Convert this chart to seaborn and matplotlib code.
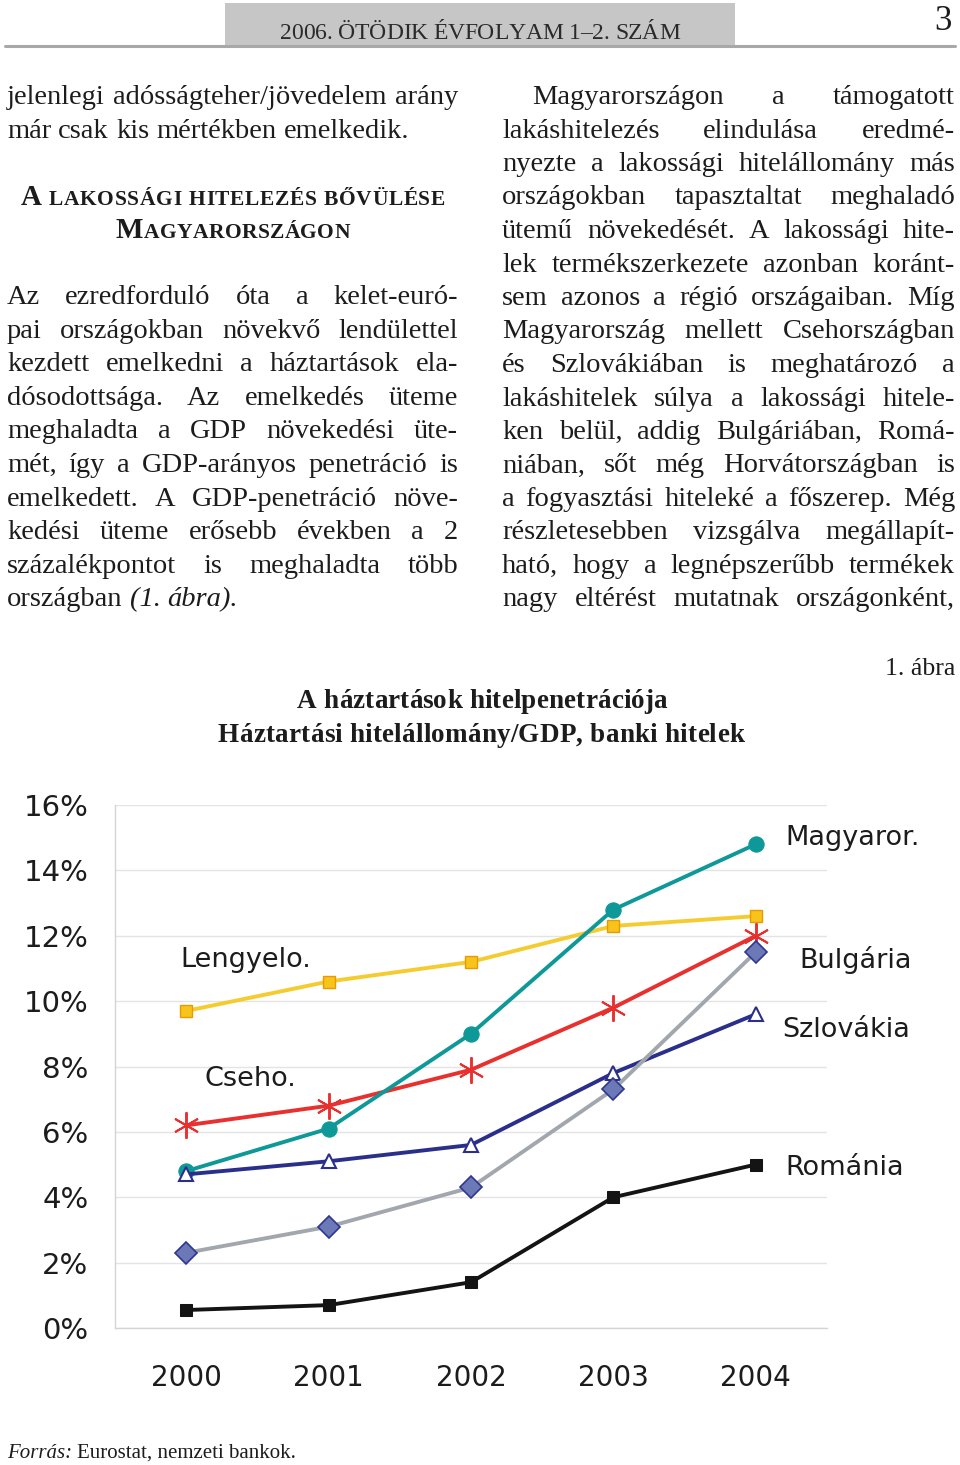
import matplotlib
matplotlib.use("Agg")
import matplotlib.pyplot as plt
from matplotlib.patches import Rectangle
from matplotlib.lines import Line2D
import seaborn as sns

# data (percent of GDP)
years = ["2000", "2001", "2002", "2003", "2004"]
magyar = [4.8, 6.1, 9.0, 12.8, 14.8]
lengyel = [9.7, 10.6, 11.2, 12.3, 12.6]
cseh = [6.2, 6.8, 7.9, 9.8, 12.0]
szlovak = [4.7, 5.1, 5.6, 7.8, 9.6]
bulgar = [2.3, 3.1, 4.3, 7.3, 11.5]
roman = [0.55, 0.7, 1.4, 4.0, 5.0]
ytick_vals = [0, 2, 4, 6, 8, 10, 12, 14, 16]
ytick_labels = ["0%", "2%", "4%", "6%", "8%", "10%", "12%", "14%", "16%"]

header = "2006. ÖTÖDIK ÉVFOLYAM 1–2. SZÁM"
left_col = [
    "jelenlegi adósságteher/jövedelem arány",
    "már csak kis mértékben emelkedik.",
]
left_par = [
    "Az ezredforduló óta a kelet-euró-",
    "pai országokban növekvő lendülettel",
    "kezdett emelkedni a háztartások ela-",
    "dósodottsága. Az emelkedés üteme",
    "meghaladta a GDP növekedési üte-",
    "mét, így a GDP-arányos penetráció is",
    "emelkedett. A GDP-penetráció növe-",
    "kedési üteme erősebb években a 2",
    "százalékpontot is meghaladta több",
]
right_col = [
    "Magyarországon a támogatott",
    "lakáshitelezés elindulása eredmé-",
    "nyezte a lakossági hitelállomány más",
    "országokban tapasztaltat meghaladó",
    "ütemű növekedését. A lakossági hite-",
    "lek termékszerkezete azonban koránt-",
    "sem azonos a régió országaiban. Míg",
    "Magyarország mellett Csehországban",
    "és Szlovákiában is meghatározó a",
    "lakáshitelek súlya a lakossági hitele-",
    "ken belül, addig Bulgáriában, Romá-",
    "niában, sőt még Horvátországban is",
    "a fogyasztási hiteleké a főszerep. Még",
    "részletesebben vizsgálva megállapít-",
    "ható, hogy a legnépszerűbb termékek",
    "nagy eltérést mutatnak országonként,",
]

W, H = 960, 1465
sns.set_style("white")
plt.rcParams["font.family"] = ["DejaVu Sans"]
SERIF = ["Liberation Serif", "DejaVu Serif"]
INK = "#1c1c1c"
BODY = 20.5

fig = plt.figure(figsize=(W / 100, H / 100), dpi=100)
renderer = fig.canvas.get_renderer()


def px(x, y):
    return x / W, 1 - y / H


def width_of(t):
    return t.get_window_extent(renderer).width


def put_words(words, x0, x1, y, justify=True, size=BODY):
    arts = []
    for w in words:
        if isinstance(w, tuple):
            w, st = w
        else:
            st = "normal"
        arts.append(fig.text(*px(x0, y), w, fontsize=size, family=SERIF, style=st,
                             color=INK, va="baseline", ha="left"))
    widths = [width_of(a) for a in arts]
    if justify and len(arts) > 1:
        gap = (x1 - x0 - sum(widths)) / (len(arts) - 1)
    else:
        gap = size * 100 / 72 * 0.25
    x = x0
    for a, w in zip(arts, widths):
        a.set_position(px(x, y))
        x += w + gap


def put_fitted(segments, x0, x1, y, weight="normal", color=INK):
    arts = []
    widths = []
    for s, size in segments:
        for ch in s:
            if ch == " ":
                arts.append(None)
                widths.append(size * 100 / 72 * 0.25)
            else:
                a = fig.text(*px(x0, y), ch, fontsize=size, family=SERIF, weight=weight,
                             color=color, va="baseline", ha="left")
                arts.append(a)
                widths.append(width_of(a))
    extra = (x1 - x0 - sum(widths)) / (len(arts) - 1)
    x = x0
    for a, w in zip(arts, widths):
        if a is not None:
            a.set_position(px(x, y))
        x += w + extra


# page header
fig.patches.append(Rectangle(px(225, 45), 510 / W, 42 / H, transform=fig.transFigure,
                             facecolor="#c6c6c6", edgecolor="none"))
fig.lines.append(Line2D([5 / W, 955 / W], [1 - 46 / H, 1 - 46 / H], transform=fig.transFigure,
                        color="#a8a8a8", lw=2.2))
put_fitted([(header, 17)], 280, 680, 39, color="#2a2a2a")
fig.text(*px(952, 30), "3", fontsize=25, family=SERIF, color=INK, ha="right", va="baseline")

# text columns
for i, line in enumerate(left_col):
    put_words(line.split(), 7, 458, 104 + i * 33.5, justify=(i == 0))

put_fitted([("A", 21), (" LAKOSSÁGI HITELEZÉS BŐVÜLÉSE", 15.5)], 21, 445, 205, weight="bold")
put_fitted([("M", 21), ("AGYARORSZÁGON", 15.5)], 116, 350, 238, weight="bold")

for i, line in enumerate(left_par):
    put_words(line.split(), 7, 458, 304 + i * 33.6)
put_words(["országban", ("(1.", "italic"), ("ábra).", "italic")], 7, 458, 606, justify=False)

for i, line in enumerate(right_col):
    x0 = 532 if i == 0 else 502
    put_words(line.split(), x0, 955, 104 + i * 33.5)

# figure captions
fig.text(*px(955, 675), "1. ábra", fontsize=18.5, family=SERIF, color=INK, ha="right", va="baseline")
put_fitted([("A háztartások hitelpenetrációja", 19.5)], 297, 667, 708, weight="bold")
put_fitted([("Háztartási hitelállomány/GDP, banki hitelek", 19.5)], 218, 744, 742, weight="bold")

# chart
ax = fig.add_axes([115 / W, 1 - 1328 / H, 712 / W, 523 / H])
xs = list(range(len(years)))
series = [
    (lengyel, dict(color="#f5cc30", marker="s", markersize=8.5, markerfacecolor="#f8c41c",
                   markeredgecolor="#e89a00", markeredgewidth=1)),
    (cseh, dict(color="#e8302e", marker=(6, 2, 0), markersize=19, markeredgecolor="#e8302e",
                markeredgewidth=1.4)),
    (magyar, dict(color="#0e9898", marker="o", markersize=11, markerfacecolor="#0e9898",
                  markeredgecolor="#0e9898")),
    (szlovak, dict(color="#2b2f8c", marker="^", markersize=10, markerfacecolor="white",
                   markeredgecolor="#2b2f8c", markeredgewidth=1.5)),
    (bulgar, dict(color="#a2a7ae", marker="D", markersize=11.5, markerfacecolor="#6c79b6",
                  markeredgecolor="#2d3690", markeredgewidth=1.2)),
    (roman, dict(color="#141414", marker="s", markersize=8.5, markerfacecolor="#141414",
                 markeredgecolor="#141414")),
]
for vals, style in series:
    sns.lineplot(x=xs, y=vals, ax=ax, lw=2.8, clip_on=False, **style)

ax.set_xlim(-0.5, len(years) - 0.5)
ax.set_ylim(0, 16)
ax.set_yticks(ytick_vals)
ax.set_yticklabels(ytick_labels, fontsize=21, color=INK)
ax.set_xticks(xs)
ax.set_xticklabels(years, fontsize=20, color=INK)
ax.set_xticks([x - 0.5 for x in range(len(years) + 1)], minor=True)
ax.tick_params(axis="x", which="major", length=0, pad=26)
ax.tick_params(axis="x", which="minor", length=7, color="#d4d4d4", width=1)
ax.tick_params(axis="y", length=7, color="#d4d4d4", width=1, pad=12)
ax.grid(axis="y", color="#e4e4e4", lw=1)
for side in ["top", "right"]:
    ax.spines[side].set_visible(False)
for side in ["left", "bottom"]:
    ax.spines[side].set_color("#d4d4d4")
    ax.spines[side].set_linewidth(1)
ax.set_xlabel("")
ax.set_ylabel("")

lab = dict(fontsize=19.5, family="DejaVu Sans", color=INK, va="center", ha="left")
fig.text(*px(785, 838), "Magyaror.", **lab)
fig.text(*px(799, 960), "Bulgária", **lab)
fig.text(*px(782, 1030), "Szlovákia", **lab)
fig.text(*px(785, 1168), "Románia", **lab)
fig.text(*px(180, 960), "Lengyelo.", **lab)
fig.text(*px(204, 1079), "Cseho.", **lab)

# source line
src = fig.text(*px(7, 1458), "Forrás:", fontsize=15, family=SERIF, style="italic", color=INK,
               va="baseline", ha="left")
fig.text(*px(7 + width_of(src) + 5, 1458), "Eurostat, nemzeti bankok.", fontsize=15, family=SERIF,
         color=INK, va="baseline", ha="left")

fig.savefig("out.png", dpi=100)
